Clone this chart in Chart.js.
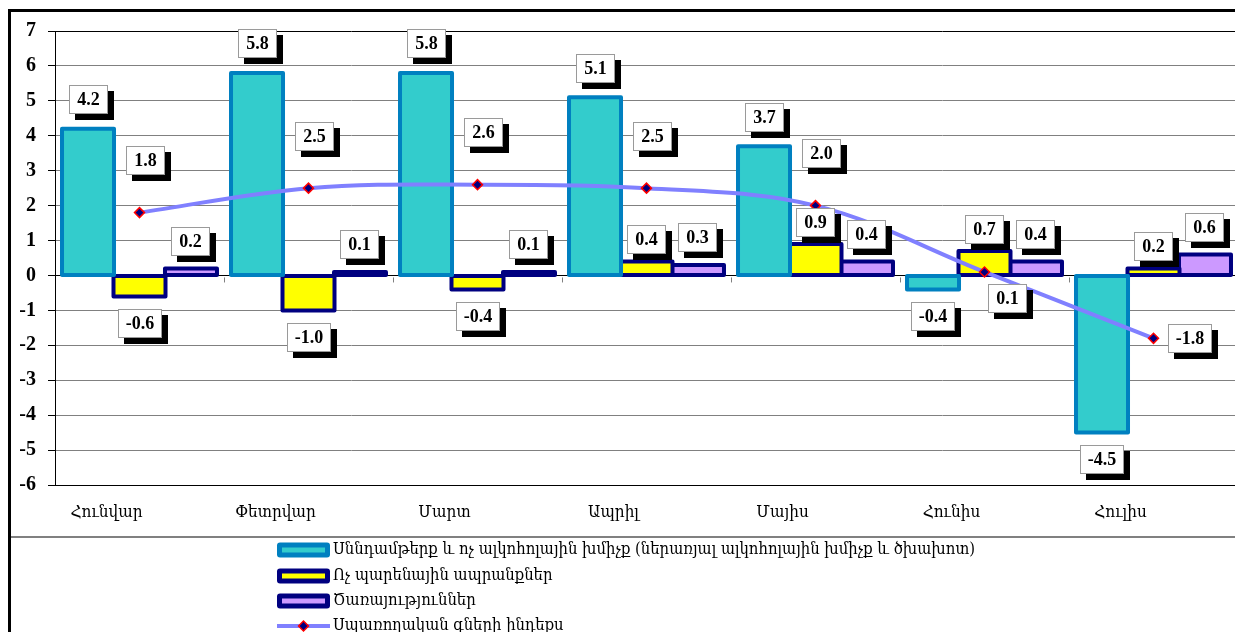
<!DOCTYPE html>
<html>
<head>
<meta charset="utf-8">
<script src="https://cdn.jsdelivr.net/npm/chart.js@4/dist/chart.umd.min.js"></script>
<style>
  html, body { margin: 0; padding: 0; background: #fff; overflow: hidden; width: 1235px; height: 632px; }
  #wrap { position: relative; width: 1245px; height: 632px; }
  canvas { display: block; }
</style>
</head>
<body>
<div id="wrap"><canvas id="c" width="1245" height="632"></canvas></div>
<script>
// ---- data ----
const categories = ['Հունվար', 'Փետրվար', 'Մարտ', 'Ապրիլ', 'Մայիս', 'Հունիս', 'Հուլիս'];
const foodValues = [4.2, 5.8, 5.8, 5.1, 3.7, -0.4, -4.5];
const nonFoodValues = [-0.6, -1.0, -0.4, 0.4, 0.9, 0.7, 0.2];
const servicesValues = [0.2, 0.1, 0.1, 0.3, 0.4, 0.4, 0.6];
const cpiValues = [1.8, 2.5, 2.6, 2.5, 2.0, 0.1, -1.8];
const seriesNames = [
  'Սննդամթերք և ոչ ալկոհոլային խմիչք (ներառյալ ալկոհոլային խմիչք և ծխախոտ)',
  'Ոչ պարենային ապրանքներ',
  'Ծառայություններ',
  'Սպառողական գների ինդեքս'
];
const yMin = -6, yMax = 7, yStep = 1;
const cpiLabelSide = ['above', 'above', 'above', 'above', 'above', 'below', 'right'];

// ---- styling ----
const ARM = "'DejaVu Serif Condensed', 'DejaVu Serif', 'DejaVu Sans', serif";
const NUM = "'Liberation Serif', 'DejaVu Serif', serif";

function drawLabelBox(ctx, cx, cy, text) {
  ctx.save();
  ctx.font = 'bold 18px ' + NUM;
  const tw = ctx.measureText(text).width;
  const w = Math.round(tw + 16), h = 29;
  const x = Math.round(cx - w / 2), y = Math.round(cy - h / 2);
  ctx.fillStyle = '#000';
  ctx.fillRect(x + 6, y + 6, w, h);
  ctx.fillStyle = '#fff';
  ctx.fillRect(x, y, w, h);
  ctx.strokeStyle = '#9a9a9a';
  ctx.lineWidth = 1;
  ctx.strokeRect(x + 0.5, y + 0.5, w - 1, h - 1);
  ctx.fillStyle = '#000';
  ctx.textAlign = 'center';
  ctx.textBaseline = 'middle';
  ctx.fillText(text, x + w / 2, y + h / 2 + 1);
  ctx.restore();
}

const decor = {
  id: 'decor',
  beforeDraw(chart) {
    const ctx = chart.ctx;
    ctx.save();
    ctx.fillStyle = '#fff';
    ctx.fillRect(0, 0, chart.width, chart.height);
    ctx.restore();
  },
  afterDatasetDraw(chart, args) {
    const ds = chart.data.datasets[args.index];
    if (ds.type !== 'bar') return;
    const ctx = chart.ctx;
    ctx.save();
    ctx.strokeStyle = ds.edgeColor;
    ctx.lineWidth = 4;
    ctx.lineJoin = 'round';
    args.meta.data.forEach(el => {
      const p = el.getProps(['x', 'y', 'base', 'width'], true);
      const left = p.x - p.width / 2;
      const top = Math.min(p.y, p.base);
      const h = Math.abs(p.base - p.y);
      ctx.strokeRect(left, top, p.width, h);
    });
    ctx.restore();
  },
  afterDatasetsDraw(chart) {
    const ctx = chart.ctx;
    const xs = chart.scales.x, ys = chart.scales.y;
    const y0 = ys.getPixelForValue(0);
    ctx.save();
    ctx.strokeStyle = '#808080';
    ctx.lineWidth = 1;
    for (let i = 1; i < categories.length; i++) {
      const xb = Math.round((xs.getPixelForValue(i - 1) + xs.getPixelForValue(i)) / 2) + 0.5;
      ctx.beginPath();
      ctx.moveTo(xb, y0 + 2);
      ctx.lineTo(xb, y0 + 7);
      ctx.stroke();
    }
    ctx.restore();
    // data labels
    chart.data.datasets.forEach((ds, di) => {
      const meta = chart.getDatasetMeta(di);
      meta.data.forEach((el, i) => {
        const v = ds.data[i];
        const txt = v.toFixed(1);
        if (ds.type === 'line') {
          const side = cpiLabelSide[i];
          if (side === 'above') drawLabelBox(ctx, el.x + 6, el.y - 52, txt);
          else if (side === 'below') drawLabelBox(ctx, el.x + 23, el.y + 27, txt);
          else drawLabelBox(ctx, el.x + 36, el.y, txt);
        } else {
          if (v >= 0) drawLabelBox(ctx, el.x, el.y - ds.labelGap, txt);
          else drawLabelBox(ctx, el.x, el.y + 27, txt);
        }
      });
    });
  },
  afterDraw(chart) {
    const ctx = chart.ctx;
    ctx.save();
    ctx.fillStyle = '#000';
    ctx.fillRect(8, 9, chart.width - 8, 3);
    ctx.fillRect(8, 9, 3, chart.height - 9);
    ctx.fillStyle = '#808080';
    ctx.fillRect(11, 536, chart.width - 11, 2);
    // legend
    const rows = [550, 576, 601, 626];
    const bx = 277, bw = 53;
    ctx.font = '16px ' + ARM;
    const target = 642;
    const w0 = ctx.measureText(seriesNames[0]).width;
    let fs = 16 * target / w0;
    fs = Math.max(12, Math.min(19, fs));
    chart.data.datasets.forEach((ds, di) => {
      const cy = rows[di];
      if (ds.type === 'line') {
        ctx.fillStyle = ds.borderColor;
        ctx.fillRect(bx, cy - 2, bw, 4);
        ctx.save();
        ctx.translate(bx + bw / 2, cy);
        ctx.rotate(Math.PI / 4);
        ctx.fillStyle = ds.pointBackgroundColor;
        ctx.strokeStyle = ds.pointBorderColor;
        ctx.lineWidth = 1.5;
        ctx.fillRect(-3.5, -3.5, 7, 7);
        ctx.strokeRect(-3.5, -3.5, 7, 7);
        ctx.restore();
      } else {
        ctx.fillStyle = ds.edgeColor;
        ctx.beginPath();
        ctx.roundRect(bx, cy - 7.5, bw, 15, 3);
        ctx.fill();
        ctx.fillStyle = ds.backgroundColor;
        ctx.fillRect(bx + 5, cy - 2.5, bw - 10, 5);
      }
      ctx.fillStyle = '#000';
      ctx.font = fs.toFixed(2) + 'px ' + ARM;
      ctx.textAlign = 'left';
      ctx.textBaseline = 'middle';
      ctx.fillText(seriesNames[di], bx + bw + 3, cy);
    });
    ctx.restore();
  }
};

const yTickValues = [];
for (let v = yMin; v <= yMax; v += yStep) yTickValues.push(v);

new Chart(document.getElementById('c'), {
  data: {
    labels: categories,
    datasets: [
      { type: 'bar', label: seriesNames[0], data: foodValues, backgroundColor: '#33CCCC', edgeColor: '#0080C0', labelGap: 29, borderWidth: 0, order: 1 },
      { type: 'bar', label: seriesNames[1], data: nonFoodValues, backgroundColor: '#FFFF00', edgeColor: '#000080', labelGap: 22, borderWidth: 0, order: 1 },
      { type: 'bar', label: seriesNames[2], data: servicesValues, backgroundColor: '#CC99FF', edgeColor: '#000080', labelGap: 27, borderWidth: 0, order: 1 },
      { type: 'line', label: seriesNames[3], data: cpiValues, borderColor: '#8080FF', borderWidth: 4, tension: 0.35,
        pointStyle: 'rectRot', pointRadius: 5, pointBackgroundColor: '#000080', pointBorderColor: '#FF0000', pointBorderWidth: 1.5, order: 0 }
    ]
  },
  options: {
    responsive: false,
    animation: false,
    events: [],
    datasets: { bar: { barPercentage: 1.01, categoryPercentage: 0.914 } },
    layout: { padding: { top: 31, left: 0, right: 7, bottom: 95 } },
    plugins: { legend: { display: false }, tooltip: { enabled: false } },
    scales: {
      x: {
        offset: true,
        grid: { display: false, drawTicks: false },
        border: { display: true, color: '#000', width: 1 },
        ticks: { color: '#000', font: { family: ARM, size: 17 }, padding: 17, labelOffset: -33, maxRotation: 0, autoSkip: false },
        afterFit(s) { s.height = 52; }
      },
      y: {
        min: yMin, max: yMax,
        afterBuildTicks(s) { s.ticks = yTickValues.map(v => ({ value: v })); },
        grid: {
          color: c => (c.tick && (c.tick.value === 0 || c.tick.value === yMax)) ? '#000' : '#808080',
          lineWidth: 1, tickLength: 7, tickColor: '#000'
        },
        border: { display: true, color: '#000', width: 1 },
        ticks: { color: '#000', font: { family: NUM, size: 20, weight: 'bold' }, padding: 12, stepSize: yStep },
        afterFit(s) { s.width = 55; }
      }
    }
  },
  plugins: [decor]
});
</script>
</body>
</html>
